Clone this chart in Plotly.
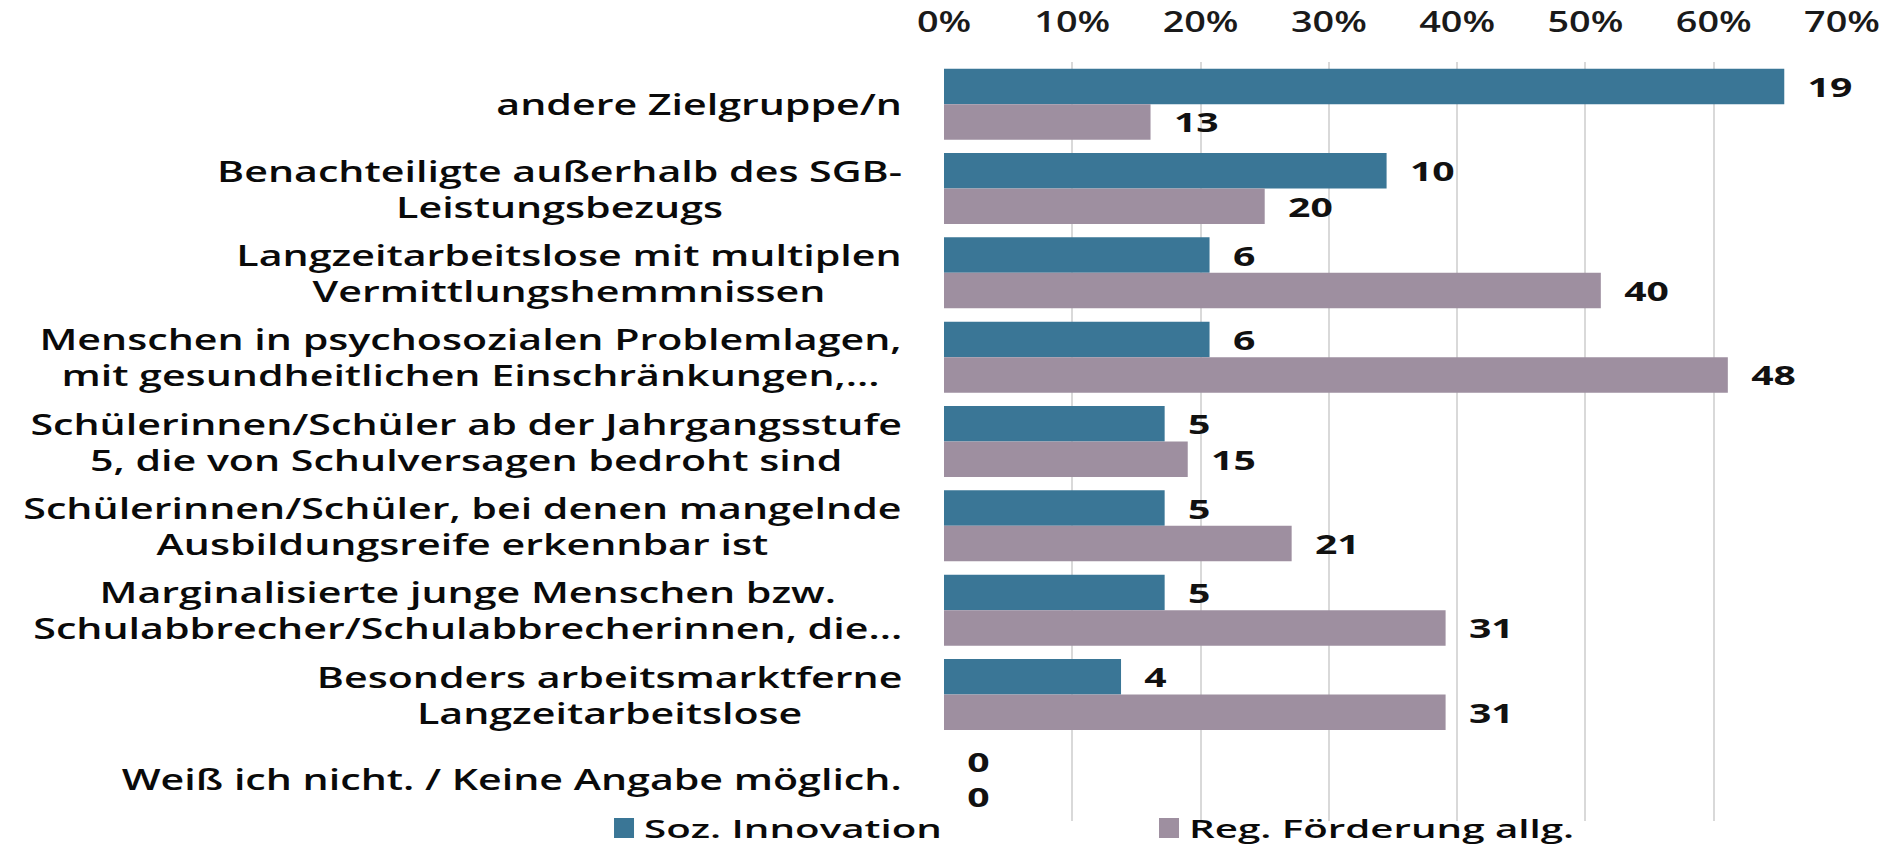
import plotly.graph_objects as go

categories = [
    "andere Zielgruppe/n",
    "Benachteiligte außerhalb des SGB-<br>Leistungsbezugs",
    "Langzeitarbeitslose mit multiplen<br>Vermittlungshemmnissen",
    "Menschen in psychosozialen Problemlagen,<br>mit gesundheitlichen Einschränkungen,...",
    "Schülerinnen/Schüler ab der Jahrgangsstufe<br>5, die von Schulversagen bedroht sind",
    "Schülerinnen/Schüler, bei denen mangelnde<br>Ausbildungsreife erkennbar ist",
    "Marginalisierte junge Menschen bzw.<br>Schulabbrecher/Schulabbrecherinnen, die...",
    "Besonders arbeitsmarktferne<br>Langzeitarbeitslose",
    "Weiß ich nicht. / Keine Angabe möglich.",
]
series_names = ["Soz. Innovation", "Reg. Förderung allg."]
soz_pct = [65.5, 34.5, 20.7, 20.7, 17.2, 17.2, 17.2, 13.8, 0]
reg_pct = [16.1, 25.0, 51.2, 61.1, 19.0, 27.1, 39.1, 39.1, 0]
soz_n = [19, 10, 6, 6, 5, 5, 5, 4, 0]
reg_n = [13, 20, 40, 48, 15, 21, 31, 31, 0]
tick_vals = [0, 10, 20, 30, 40, 50, 60, 70]
tick_text = ["0%", "10%", "20%", "30%", "40%", "50%", "60%", "70%"]

FONT = "Open Sans"
colors = ["#3A7696", "#9E8FA0"]
pad = "\u00a0\u00a0"

fig = go.Figure()
for name, vals, ns, col in zip(series_names, [soz_pct, reg_pct], [soz_n, reg_n], colors):
    fig.add_trace(go.Bar(
        y=categories, x=vals, name=name, orientation="h",
        marker=dict(color=col, line=dict(width=0)),
        text=[str(n) for n in ns],
        texttemplate=pad + "%{text}",
        textposition="outside",
        constraintext="none",
        cliponaxis=False,
        textfont=dict(family=FONT, size=27, color="#111111", weight=700),
        hoverinfo="skip",
    ))

for cat in categories:
    fig.add_annotation(
        x=0, xref="paper", y=cat, yref="y",
        text=cat, showarrow=False,
        xanchor="right", yanchor="middle", align="center",
        xshift=-40,
        font=dict(family=FONT, size=28, color="#0a0a0a", weight=600),
    )

fig.update_layout(
    width=1888, height=848,
    margin=dict(l=944, r=46, t=62, b=27, autoexpand=False),
    paper_bgcolor="white", plot_bgcolor="white",
    barmode="group", bargap=0.158, bargroupgap=0,
    font=dict(family=FONT, color="#111111"),
    showlegend=True,
    legend=dict(
        orientation="h", x=-0.3786, xanchor="left", y=-0.0092, yanchor="middle",
        font=dict(family=FONT, size=26, color="#0a0a0a", weight=600),
        entrywidth=500, entrywidthmode="pixels",
        bgcolor="rgba(0,0,0,0)", itemwidth=30,
    ),
    xaxis=dict(
        side="top", range=[0, 70], tickvals=tick_vals, ticktext=tick_text,
        showgrid=True, gridcolor="#d9d9d9", gridwidth=2,
        zeroline=False, showline=False, ticks="",
        ticklabelstandoff=23,
        tickfont=dict(family=FONT, size=28, color="#1a1a1a", weight=600),
        fixedrange=True,
    ),
    yaxis=dict(
        categoryorder="array", categoryarray=categories, autorange="reversed",
        showticklabels=False, showgrid=False, zeroline=False, showline=False,
        ticks="", fixedrange=True,
    ),
)

# The reference typography is horizontally stretched: widen all texts,
# remove the default page margin and enlarge the legend swatches.
post = """
document.body.style.margin = '0';
var s = document.createElement('style');
s.textContent = 'text.annotation-text{transform-box:fill-box;transform-origin:100% 50%;transform:scaleX(1.47);}' +
                'text.legendtext{transform-box:fill-box;transform-origin:0% 50%;transform:scaleX(1.55);}';
document.head.appendChild(s);
document.querySelectorAll('.legendpoints path').forEach(function(p){
    p.setAttribute('d', 'M10,10H-10V-10H10Z');
});
function stretch(sel, k, mode){
    document.querySelectorAll(sel).forEach(function(el){
        var b = el.getBBox();
        var ox = mode === 'left' ? b.x : b.x + b.width / 2;
        var t = el.getAttribute('transform') || '';
        el.setAttribute('transform', t + ' translate(' + ox + ',0) scale(' + k + ',1) translate(' + (-ox) + ',0)');
    });
}
stretch('.xtick text', 1.35, 'center');
stretch('.bars .bartext', 1.45, 'left');
"""
fig.write_html("out.html", post_script=post, config={"displayModeBar": False})
